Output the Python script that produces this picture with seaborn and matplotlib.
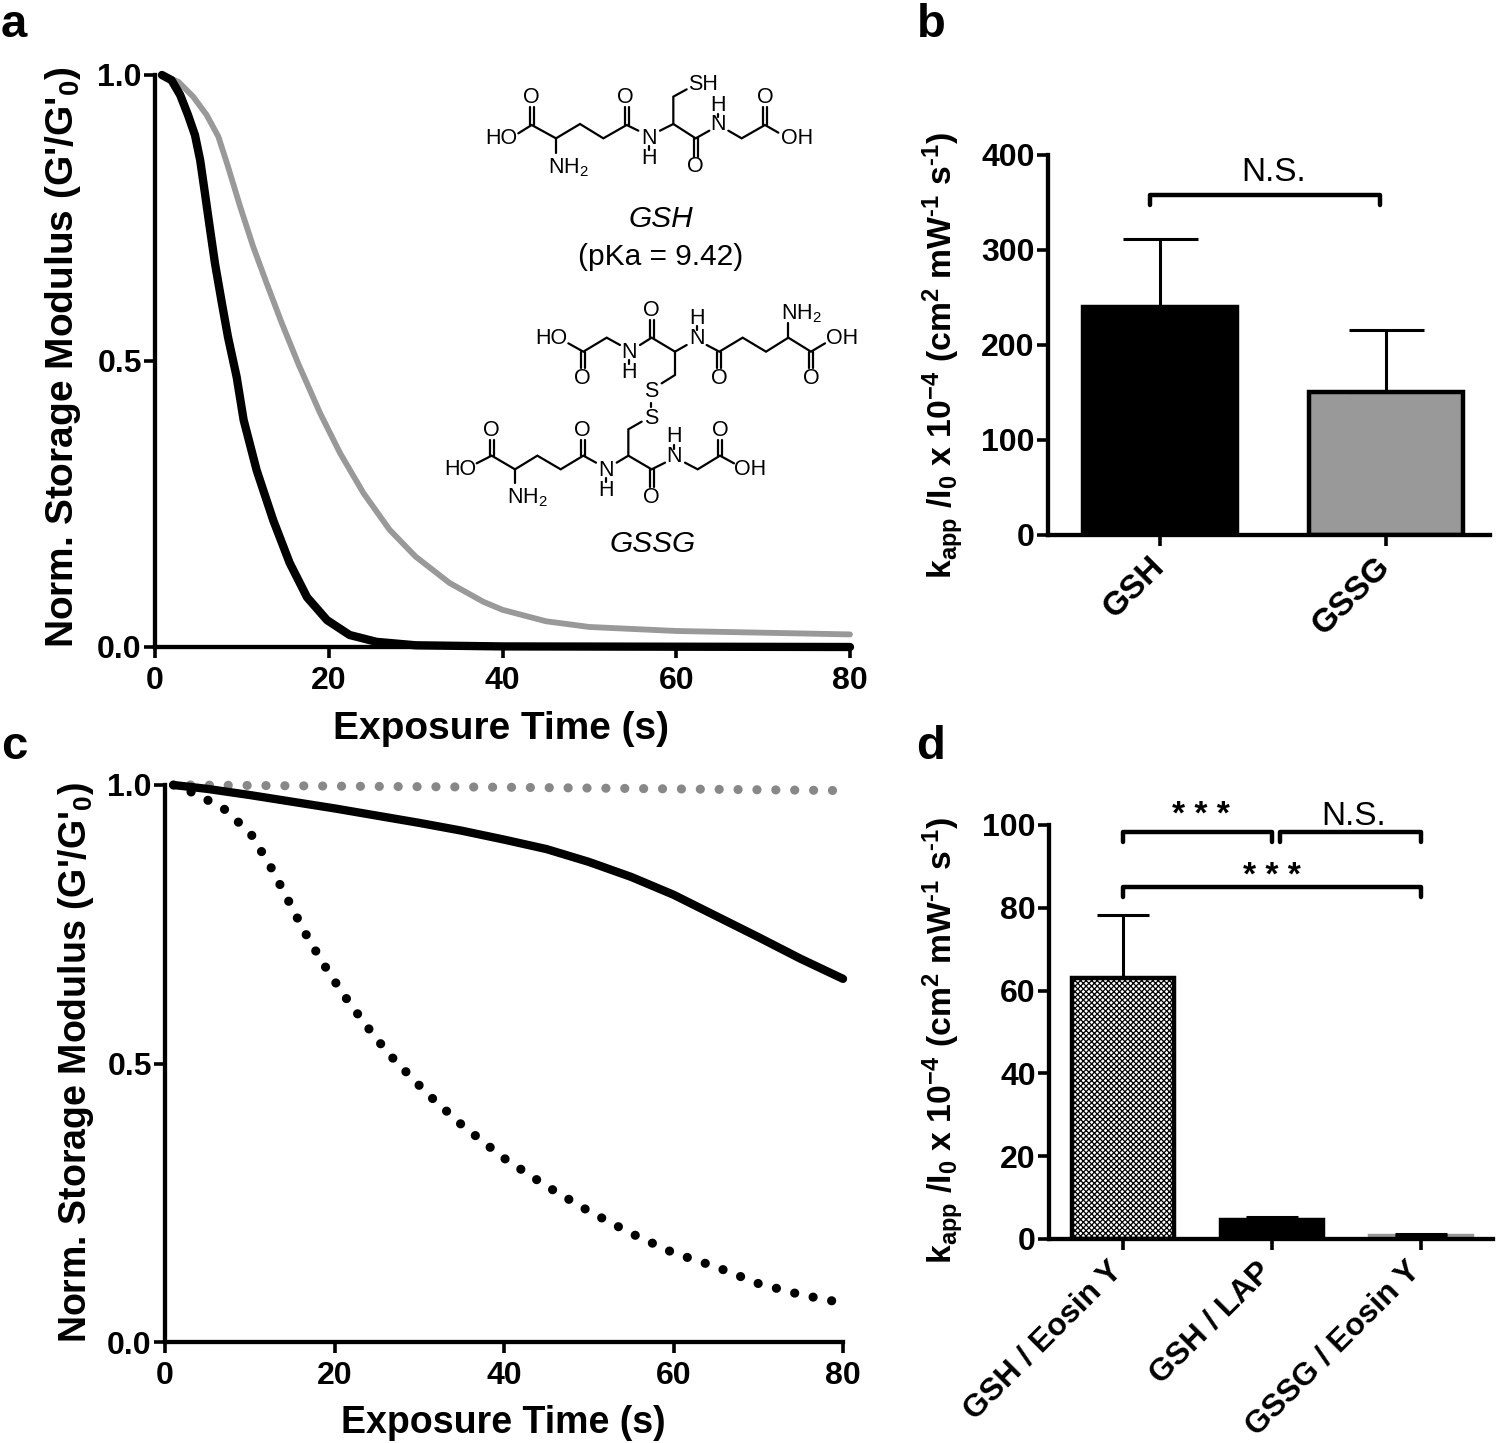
import numpy as np
import matplotlib
matplotlib.use("Agg")
import matplotlib.pyplot as plt
import matplotlib.transforms as mtrans
import seaborn as sns

# panel a
a_black_t = [0.8, 1.9, 2.9, 3.8, 4.6, 5.2, 5.75, 6.3, 6.9, 7.7, 8.4, 9.4, 10.2, 11.7, 13.6, 15.5, 17.5, 19.8, 22.4, 25.5, 30, 40, 80]
a_black_y = [1.0, 0.991, 0.965, 0.93, 0.895, 0.851, 0.793, 0.734, 0.671, 0.601, 0.542, 0.472, 0.397, 0.309, 0.222, 0.147, 0.087, 0.047, 0.021, 0.009, 0.003, 0.001, 0.0]
a_gray_t = [0.8, 2.7, 4.4, 5.95, 7.3, 8.4, 9.8, 11.3, 12.85, 14.6, 16.5, 19, 21.3, 24, 27, 30, 33.9, 37.8, 40, 45, 50, 60, 70, 80]
a_gray_y = [1.0, 0.988, 0.962, 0.93, 0.892, 0.84, 0.77, 0.70, 0.636, 0.566, 0.495, 0.409, 0.339, 0.269, 0.205, 0.158, 0.112, 0.079, 0.065, 0.045, 0.035, 0.028, 0.025, 0.022]

# panel c
c_solid_t = [1, 5, 10, 15, 20, 25, 30, 35, 40, 45, 50, 55, 60, 65, 70, 75, 80]
c_solid_y = [1.0, 0.993, 0.982, 0.97, 0.958, 0.945, 0.932, 0.918, 0.902, 0.885, 0.862, 0.835, 0.803, 0.765, 0.727, 0.688, 0.652]
c_dot_t = [1, 3.5, 6.9, 10.1, 12.4, 14.4, 16.4, 18.6, 21, 23.6, 26.3, 27.8, 31, 35, 40, 45, 50, 55, 60, 65, 70, 75, 80]
c_dot_y = [1.0, 0.985, 0.958, 0.913, 0.855, 0.797, 0.738, 0.681, 0.625, 0.571, 0.519, 0.495, 0.445, 0.39, 0.33, 0.28, 0.235, 0.195, 0.16, 0.135, 0.105, 0.085, 0.07]
c_gray_t = [3, 20, 40, 60, 80]
c_gray_y = [1.0, 0.998, 0.996, 0.993, 0.99]

# bars
b_names = ["GSH", "GSSG"]
b_vals = [240, 150]
b_tops = [311, 216]
d_names = ["GSH / Eosin Y", "GSH / LAP", "GSSG / Eosin Y"]
d_vals = [63, 4.7, 0.7]
d_tops = [78.3, 5.2, 1.3]

# structures, in the crop's own coordinates
gsh_bonds = [
    [(265, 220), (305, 195), (378, 235), (450, 192), (520, 235), (590, 195), (625, 212)],
    [(378, 235), (378, 280)],
    [(657, 259), (657, 271)],
    [(690, 212), (730, 192), (797, 235), (838, 212)],
    [(730, 192), (730, 110), (770, 88)],
    [(865, 161), (865, 171)],
    [(895, 212), (935, 235), (1005, 195), (1045, 218)],
]
gsh_double = [(305, 195, 140), (590, 195, 140), (797, 235, 290), (1005, 195, 140)]
gsh_atoms = [("HO", 215, 237), ("O", 305, 112), ("NH$_2$", 415, 322), ("O", 587, 112), ("N", 657, 235),
             ("H", 657, 295), ("SH", 820, 72), ("O", 797, 318), ("N", 865, 195), ("H", 865, 137),
             ("O", 1005, 112), ("OH", 1100, 237)]

gssg_bonds = [
    [(415, 850), (460, 875), (530, 833), (570, 855)],
    [(597, 901), (597, 913)],
    [(630, 855), (665, 833), (735, 875), (770, 855)],
    [(735, 875), (735, 945), (695, 970)],
    [(800, 799), (800, 811)],
    [(830, 855), (868, 875), (938, 833), (1008, 875), (1075, 833), (1143, 875), (1185, 850)],
    [(1075, 833), (1075, 790)],
    [(663, 1030), (663, 1040)],
    [(140, 1210), (185, 1187), (255, 1228), (322, 1187), (392, 1228), (460, 1187), (498, 1208)],
    [(255, 1228), (255, 1270)],
    [(527, 1254), (527, 1266)],
    [(560, 1208), (595, 1187), (665, 1228), (705, 1208)],
    [(595, 1187), (595, 1108), (635, 1085)],
    [(733, 1154), (733, 1166)],
    [(765, 1208), (803, 1228), (870, 1187), (912, 1210)],
]
gssg_double = [(460, 875, 925), (665, 833, 780), (868, 875, 925), (1143, 875, 925),
               (185, 1187, 1140), (460, 1187, 1140), (665, 1228, 1282), (870, 1187, 1140)]
gssg_atoms = [("HO", 365, 835), ("O", 458, 955), ("N", 597, 877), ("H", 597, 937), ("O", 663, 752),
              ("N", 800, 835), ("H", 800, 775), ("O", 868, 955), ("NH$_2$", 1115, 762), ("O", 1143, 955),
              ("OH", 1235, 835), ("S", 663, 995), ("S", 663, 1075), ("HO", 92, 1228), ("O", 185, 1112),
              ("NH$_2$", 292, 1312), ("O", 458, 1112), ("N", 527, 1230), ("H", 527, 1290), ("O", 663, 1312),
              ("N", 733, 1190), ("H", 733, 1130), ("O", 870, 1112), ("OH", 960, 1228)]

sns.set_theme(style="ticks")
plt.rcParams['font.family'] = ['Liberation Sans', 'DejaVu Sans']
plt.rcParams['mathtext.fontset'] = 'custom'
plt.rcParams['mathtext.rm'] = 'Liberation Sans'
plt.rcParams['mathtext.it'] = 'Liberation Sans:italic'
plt.rcParams['mathtext.bf'] = 'Liberation Sans:bold'
plt.rcParams['hatch.linewidth'] = 0.9

W, H = 1500, 1443
fig = plt.figure(figsize=(W / 100, H / 100), dpi=100)
TICK_SIZE = 23
SPINE = 3.1
DOTTED = (0, (0.01, 2.05))
KAPP = ("k$\\mathbf{_{app}}$ /I$\\mathbf{_0}$ x 10$\\mathbf{^{-4}}$ (cm$\\mathbf{^2}$ "
        "mW$\\mathbf{^{\u2010 1}}$ s$\\mathbf{^{\u2010 1}}$)")


def make_axes(left, right, top, bottom):
    ax = fig.add_axes([left / W, 1 - bottom / H, (right - left) / W, (bottom - top) / H])
    sns.despine(ax=ax)
    ax.patch.set_alpha(0)
    for side in ["left", "bottom"]:
        ax.spines[side].set_linewidth(SPINE)
        ax.spines[side].set_color("black")
    ax.tick_params(length=8, width=2.6, color="black", labelcolor="black")
    ax.tick_params(axis="y", pad=1.5)
    ax.tick_params(axis="x", pad=6)
    return ax


def style_ticks(ax, size=TICK_SIZE):
    for lab in ax.get_xticklabels() + ax.get_yticklabels():
        lab.set_fontweight("bold")
        lab.set_fontsize(size)
        lab.set_color("black")


def curve_axes(ax, yx, xy, size):
    ax.set_xlim(0, 80)
    ax.set_ylim(0, 1)
    ax.set_xticks([0, 20, 40, 60, 80])
    ax.set_yticks([0, 0.5, 1.0])
    ax.set_yticklabels(["0.0", "0.5", "1.0"])
    style_ticks(ax)
    fig.text(xy[0] / W, 1 - xy[1] / H, "Exposure Time (s)", fontsize=size, fontweight="bold",
             ha="center", va="center", color="black")
    fig.text(yx[0] / W, 1 - yx[1] / H, r"Norm. Storage Modulus (G'/G'$\mathbf{_0}$)", fontsize=size,
             fontweight="bold", rotation=90, ha="center", va="center", color="black")


def bar_axes(ax, names, vals, tops, capsize, xlim, ylim, yticks, bar_colors, label_pos, xsize, xshift):
    sns.barplot(x=names, y=vals, hue=names, palette=bar_colors, legend=False, width=0.68,
                ax=ax, edgecolor="black", linewidth=3.2, saturation=1)
    xs = np.arange(len(names))
    ax.errorbar(xs, vals, yerr=[np.zeros(len(vals)), np.array(tops) - np.array(vals)], fmt="none",
                ecolor="black", elinewidth=2.2, capsize=capsize, capthick=2.2, zorder=1)
    ax.set_xlim(*xlim)
    ax.set_ylim(*ylim)
    ax.set_yticks(yticks)
    ax.set_xticks(xs)
    ax.set_xticklabels(names, rotation=45, ha="right", va="center", rotation_mode="anchor")
    ax.tick_params(axis="x", pad=12)
    style_ticks(ax)
    shift = mtrans.ScaledTranslation(xshift / 100, 0, fig.dpi_scale_trans)
    for lab in ax.get_xticklabels():
        lab.set_fontsize(xsize)
        lab.set_transform(lab.get_transform() + shift)
    ax.set_ylabel("")
    ax.set_xlabel("")
    fig.text(label_pos[0] / W, 1 - label_pos[1] / H, KAPP, fontsize=24.3, fontweight="bold", rotation=90,
             ha="center", va="center", color="black")


def bracket(ax, x0, x1, y, tip, lw=3.2):
    ax.plot([x0, x0, x1, x1], [tip, y, y, tip], color="black", lw=lw, solid_capstyle="round",
            solid_joinstyle="round", clip_on=False)


# a
ax_a = make_axes(155, 850, 75, 647)
sns.lineplot(x=a_gray_t, y=a_gray_y, color="#999999", lw=4.2, ax=ax_a, clip_on=False)
sns.lineplot(x=a_black_t, y=a_black_y, color="black", lw=6.0, ax=ax_a, clip_on=False)
curve_axes(ax_a, (63, 357), (501, 729), 28)

# c
ax_c = make_axes(165, 843, 785, 1342)
sns.lineplot(x=c_gray_t, y=c_gray_y, color="#888888", lw=6.6, ax=ax_c, clip_on=False,
             linestyle=DOTTED, dash_capstyle="round")
sns.lineplot(x=c_solid_t, y=c_solid_y, color="black", lw=6.0, ax=ax_c, clip_on=False)
sns.lineplot(x=c_dot_t, y=c_dot_y, color="black", lw=6.6, ax=ax_c, clip_on=False,
             linestyle=DOTTED, dash_capstyle="round")
curve_axes(ax_c, (76, 1062), (503, 1423), 27)

# b
ax_b = make_axes(1048, 1490, 155, 534.5)
bar_axes(ax_b, b_names, b_vals, b_tops, 27, (-0.496, 1.46), (0, 400), [0, 100, 200, 300, 400],
         ["black", "#999999"], (943, 356), 24, 0)
bracket(ax_b, -0.044, 0.973, 358, 347)
ax_b.text(0.5, 382, "N.S.", fontsize=24, ha="center", va="center", color="black")

# d
ax_d = make_axes(1049, 1493, 825, 1239)
bar_axes(ax_d, d_names, d_vals, d_tops, 19, (-0.497, 2.483), (0, 100), [0, 20, 40, 60, 80, 100],
         ["white", "black", "#999999"], (943, 1041), 22.8, -5)
ax_d.patches[0].set_hatch("xxxxxx")
ax_d.patches[2].set_edgecolor("#999999")
bracket(ax_d, 0.0, 1.0, 98.3, 95.9)
bracket(ax_d, 1.054, 2.0, 98.3, 95.9)
bracket(ax_d, 0.0, 2.0, 85, 82.6)
ax_d.text(0.52, 102.3, "* * *", fontsize=24, fontweight="bold", ha="center", va="center", color="black", clip_on=False)
ax_d.text(1.0, 87.5, "* * *", fontsize=24, fontweight="bold", ha="center", va="center", color="black", clip_on=False)
ax_d.text(1.55, 102, "N.S.", fontsize=24, ha="center", va="center", color="black")

# structures
ax_m = fig.add_axes([430 / W, 1 - 570 / H, 450 / W, 510 / H])
ax_m.set_xlim(0, 1350)
ax_m.set_ylim(1530, 0)
ax_m.axis("off")


def draw_structure(bonds, doubles, atoms):
    for path in bonds:
        ax_m.plot([p[0] for p in path], [p[1] for p in path], color="black", lw=1.6, solid_joinstyle="miter")
    for x, y0, y1 in doubles:
        for off in (-6, 6):
            ax_m.plot([x + off, x + off], [y0, y1], color="black", lw=1.6)
    for txt, x, y in atoms:
        ax_m.text(x, y, txt, fontsize=15.5, ha="center", va="center", color="black")


draw_structure(gsh_bonds, gsh_double, gsh_atoms)
draw_structure(gssg_bonds, gssg_double, gssg_atoms)
ax_m.text(692, 478, "GSH", fontsize=21.5, style="italic", ha="center", va="center", color="black")
ax_m.text(692, 590, "(pKa = 9.42)", fontsize=21.5, ha="center", va="center", color="black")
ax_m.text(668, 1452, "GSSG", fontsize=21.5, style="italic", ha="center", va="center", color="black")

# panel letters
for letter, x, y in [("a", 14, 25), ("b", 931, 25), ("c", 14, 747), ("d", 931, 747)]:
    fig.text(x / W, 1 - y / H, letter, fontsize=34, fontweight="bold", ha="center", va="center", color="black")

fig.savefig("out.png", dpi=100)
